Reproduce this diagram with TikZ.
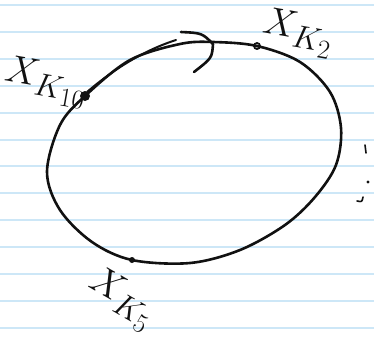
\documentclass[tikz,border=0pt]{standalone}
\usetikzlibrary{calc}
\definecolor{papier}{HTML}{CDE7F7}
\definecolor{tinte}{HTML}{111111}

\begin{document}
\begin{tikzpicture}[
    x=1pt, y=-1pt,
    linie/.style={papier, line width=2pt},
    kurve/.style={tinte, line width=2.6pt, line cap=round, line join=round},
    punkt/.style={circle, fill=tinte, inner sep=0pt, minimum size=6pt},
    lbl/.style={tinte, font=\Huge, scale=1.55, inner sep=0pt},
  ]
  \useasboundingbox[fill=white] (0,0) rectangle (374,349);

  % Linienpapier
  \foreach \k in {0,...,12}
    \draw[linie] (0,{5+26.9*\k}) -- (374,{5+26.9*\k});

  % Punkte auf der Bahn
  \coordinate (k10) at (85,96);
  \coordinate (k2) at (257,46);
  \coordinate (k5) at (132,260);

  % geschlossene Bahn
  \draw[kurve] plot[smooth cycle, tension=0.55] coordinates {
    (47,172) (60,125) (k10) (130,60) (180,44) (213,42) (k2) (300,62)
    (330,92) (341,128) (336,165) (315,197) (285,225) (240,250)
    (190,263) (k5) (92,242) (60,210)};
  % doppelter Strich oben links
  \draw[kurve, line width=2pt] (87,92) .. controls (115,68) and (145,50) .. (176,40);

  % Richtungspfeil
  \draw[kurve] (181,32) .. controls (202,33) .. (213,44);
  \draw[kurve] (213,44) .. controls (212,58) .. (194,72);

  % Markierungen
  \node[punkt, minimum size=10pt] (p10) at (k10) {};
  \node[circle, draw=tinte, line width=1.8pt, inner sep=0pt,
        minimum size=6pt] (p2) at (k2) {};
  \node[punkt, minimum size=6pt] (p5) at (k5) {};

  % Beschriftungen
  \node[lbl, rotate=-10] (l10) at (46,82) {$X_{K_{10}}$};
  \node[lbl, rotate=-10] (l2) at (298,33) {$X_{K_2}$};
  \node[lbl, rotate=-30] (l5) at (122,300) {$X_{K_5}$};

  % Punkte rechts
  \draw[kurve, line width=1.6pt] (365,145) -- (366,153);
  \fill[tinte] (368,182) circle (1.6pt);
  \draw[kurve, line width=1.6pt] (357,201) .. controls (362,202) .. (363,197);
\end{tikzpicture}
\end{document}
